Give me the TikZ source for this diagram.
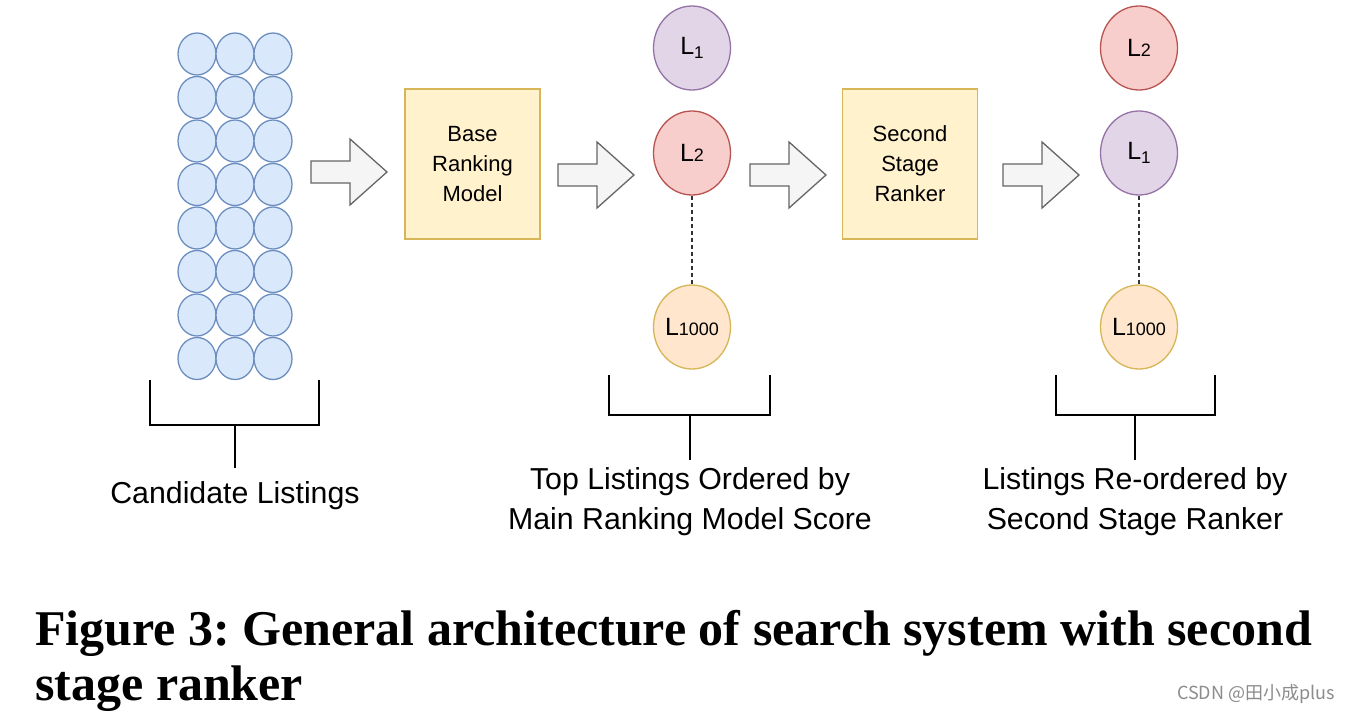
\documentclass[tikz,border=0pt]{standalone}
\usepackage{fontspec}
\setmainfont{Liberation Sans}
\newfontfamily\capfont{Liberation Serif}
\newfontfamily\cjk{Noto Sans CJK SC}
\usetikzlibrary{shapes.geometric}

\definecolor{candfill}{HTML}{DAE8FC}
\definecolor{canddraw}{HTML}{6C8EBF}
\definecolor{boxfill}{HTML}{FFF2CC}
\definecolor{boxdraw}{HTML}{D6B656}
\definecolor{purfill}{HTML}{E1D5E7}
\definecolor{purdraw}{HTML}{9673A6}
\definecolor{redfill}{HTML}{F8CECC}
\definecolor{reddraw}{HTML}{B85450}
\definecolor{orafill}{HTML}{FFE6CC}
\definecolor{oradraw}{HTML}{D6B656}
\definecolor{arrfill}{HTML}{F5F5F5}
\definecolor{arrdraw}{HTML}{666666}

\tikzset{
  cand/.style={ellipse, fill=candfill, draw=canddraw, line width=1.3pt,
    minimum width=38, minimum height=42, inner sep=0},
  ranker/.style={rectangle, fill=boxfill, draw=boxdraw, line width=1.3pt,
    minimum width=135, minimum height=150, align=center,
    font=\fontsize{22}{30}\selectfont},
  lst/.style={ellipse, line width=1.3pt, minimum width=77, minimum height=84,
    inner sep=0, font=\fontsize{25}{26}\selectfont},
  lpur/.style={lst, fill=purfill, draw=purdraw},
  lred/.style={lst, fill=redfill, draw=reddraw},
  lora/.style={lst, fill=orafill, draw=oradraw},
  bracket/.style={line width=2.6pt},
  dots/.style={line width=1.8pt, draw=black!80, dash pattern=on 4pt off 3pt},
  lbl/.style={align=center, font=\fontsize{30.3}{40}\selectfont},
}
% block arrow, left end at (#1,#2)
\newcommand{\blockarr}[2]{%
  \draw[fill=arrfill, draw=arrdraw, line width=1.3pt]
    (#1,#2-11) -- ++(39,0) -- ++(0,-22) -- ++(37,33) -- ++(-37,33)
    -- ++(0,-22) -- ++(-39,0) -- cycle;}
\newcommand{\sub}[1]{\raisebox{-0.3ex}{\fontsize{17}{17}\selectfont #1}}
\newcommand{\low}[1]{{\fontsize{18}{18}\selectfont #1}}

\begin{document}
\frenchspacing
\begin{tikzpicture}[x=1pt, y=-1pt]
\useasboundingbox[fill=white] (0,0) rectangle (1350,712);

% candidate listings
\foreach \c in {0,1,2}
  \foreach \r in {0,...,7}
    \node[cand] (c\c\r) at (197+38*\c, 54+43.5*\r) {};

\blockarr{311}{172}
\node[ranker] (base) at (472.5,164) {Base\\Ranking\\Model};
\blockarr{558}{175}

% ordered by base model
\node[lpur] (a1) at (692,48) {L\sub{1}};
\node[lred] (a2) at (692,153) {L\low{2}};
\node[lora] (a3) at (692,327) {L\low{1000}};
\draw[dots] (a2) -- (a3);

\blockarr{750}{175}
\node[ranker] (second) at (910,164) {Second\\Stage\\Ranker};
\blockarr{1003}{175}

% re-ordered by second stage
\node[lred] (b2) at (1139,48) {L\low{2}};
\node[lpur] (b1) at (1139,153) {L\sub{1}};
\node[lora] (b3) at (1139,327) {L\low{1000}};
\draw[dots] (b1) -- (b3);

% brackets
\draw[bracket] (150,380) |- (319,425) -- (319,380);
\draw[bracket] (235,425) -- (235,468) coordinate (s1);
\node[lbl, anchor=north] (candlbl) at ([yshift=-10pt]s1) {Candidate Listings};

\draw[bracket] (609,375) |- (770,415) -- (770,375);
\draw[bracket] (690,415) -- (690,460) coordinate (s2);
\node[lbl, anchor=north] (toplbl) at ([yshift=-4pt]s2) {Top Listings Ordered by\\Main Ranking Model Score};

\draw[bracket] (1056,375) |- (1215,415) -- (1215,375);
\draw[bracket] (1135,415) -- (1135,460) coordinate (s3);
\node[lbl, anchor=north] (relbl) at ([yshift=-4pt]s3) {Listings Re-ordered by\\Second Stage Ranker};

% caption
\node[anchor=base west, inner sep=0, font=\capfont\bfseries\fontsize{50}{55}\selectfont]
  (cap1) at (35,645) {Figure 3: General architecture of search system with second};
\node[anchor=base west, inner sep=0, font=\capfont\bfseries\fontsize{50}{55}\selectfont]
  (cap2) at (35,700) {stage ranker};
\node[anchor=base east, inner sep=0, text=black!45, font=\cjk\fontsize{18}{18}\selectfont]
  (wm) at (1335,699) {CSDN @田小成plus};
\end{tikzpicture}
\end{document}
